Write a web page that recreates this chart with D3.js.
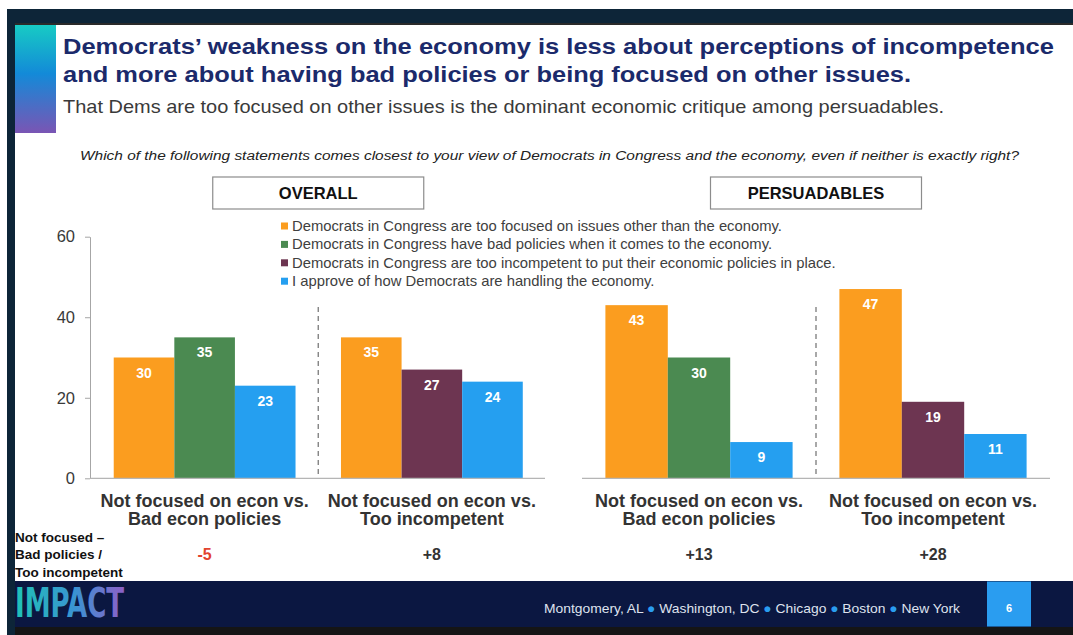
<!DOCTYPE html>
<html lang="en">
<head>
<meta charset="utf-8">
<title>Democrats and the economy</title>
<script src="https://cdn.jsdelivr.net/npm/d3@7"></script>
<style>
  body { margin: 0; background: #fff; }
  text { font-family: "Liberation Sans", Arial, sans-serif; }
</style>
</head>
<body>
<script>
"use strict";

// ---- data ----
const panelNames = ["OVERALL", "PERSUADABLES"];
const comparisons = [
  ["Not focused on econ vs.", "Bad econ policies"],
  ["Not focused on econ vs.", "Too incompetent"]
];
const seriesKeys = ["focused", "policies", "incompetent", "approve"];
const seriesNames = [
  "Democrats in Congress are too focused on issues other than the economy.",
  "Democrats in Congress have bad policies when it comes to the economy.",
  "Democrats in Congress are too incompetent to put their economic policies in place.",
  "I approve of how Democrats are handling the economy."
];
const critiqueKeys = ["policies", "incompetent"];   // second bar of each comparison

const overallFocused = [30, 35];
const overallCritique = [35, 27];
const overallApprove = [23, 24];

const persFocused = [43, 47];
const persCritique = [30, 19];
const persApprove = [9, 11];

const overallNet = ["-5", "+8"];
const persNet = ["+13", "+28"];

const yTicks = [0, 20, 40, 60];
const footerCities = ["Montgomery, AL", "Washington, DC", "Chicago", "Boston", "New York"];

const colors = {
  focused: "#fb9d1f",
  policies: "#4b8a51",
  incompetent: "#6d3551",
  approve: "#259ff0"
};

// ---- build panels ----
const panels = [
  { name: panelNames[0], range: [91, 545.5], axis: true, baseline: [90, 545],
    focused: overallFocused, critique: overallCritique, approve: overallApprove, net: overallNet },
  { name: panelNames[1], range: [582, 1050], axis: false, baseline: [582, 1050],
    focused: persFocused, critique: persCritique, approve: persApprove, net: persNet }
];

const W = 1073, H = 635;
const svg = d3.select("body").append("svg").attr("width", W).attr("height", H);
const defs = svg.append("defs");

// frame pieces
svg.append("rect").attr("x", 7).attr("y", 9).attr("width", W - 7).attr("height", 14).attr("fill", "#0d2538");
svg.append("rect").attr("x", 15).attr("y", 23).attr("width", W - 15).attr("height", 2).attr("fill", "#2a2a2a");
svg.append("rect").attr("x", 7).attr("y", 9).attr("width", 8).attr("height", H - 9).attr("fill", "#0d2538");

let sideGrad = defs.append("linearGradient").attr("id", "sideGrad")
  .attr("x1", 0).attr("y1", 0).attr("x2", 0).attr("y2", 1);
sideGrad.append("stop").attr("offset", "0%").attr("stop-color", "#17cbc4");
sideGrad.append("stop").attr("offset", "45%").attr("stop-color", "#138ad8");
sideGrad.append("stop").attr("offset", "100%").attr("stop-color", "#7a55b4");
svg.append("rect").attr("x", 15).attr("y", 25).attr("width", 41).attr("height", 108).attr("fill", "url(#sideGrad)");

// titles
svg.append("text").attr("x", 63).attr("y", 54)
  .attr("textLength", 991).attr("lengthAdjust", "spacingAndGlyphs")
  .style("font-size", "21.5px").style("font-weight", "bold").attr("fill", "#1b2a6b")
  .text("Democrats\u2019 weakness on the economy is less about perceptions of incompetence");
svg.append("text").attr("x", 63).attr("y", 81.5)
  .attr("textLength", 848).attr("lengthAdjust", "spacingAndGlyphs")
  .style("font-size", "21.5px").style("font-weight", "bold").attr("fill", "#1b2a6b")
  .text("and more about having bad policies or being focused on other issues.");
svg.append("text").attr("x", 63).attr("y", 113)
  .attr("textLength", 881).attr("lengthAdjust", "spacingAndGlyphs")
  .style("font-size", "18.5px").attr("fill", "#3a3a3a")
  .text("That Dems are too focused on other issues is the dominant economic critique among persuadables.");
svg.append("text").attr("x", 80).attr("y", 160)
  .attr("textLength", 939).attr("lengthAdjust", "spacingAndGlyphs")
  .style("font-size", "12.5px").style("font-style", "italic").attr("fill", "#222")
  .text("Which of the following statements comes closest to your view of Democrats in Congress and the economy, even if neither is exactly right?");

// shared y scale
const y = d3.scaleLinear().domain([0, 60]).range([478.3, 236.7]);

panels.forEach(function(p) {
  let x = d3.scaleBand().domain([0, 1]).range(p.range).paddingInner(0.2).paddingOuter(0.1);
  let inner = d3.scaleBand().domain([0, 1, 2]).range([0, x.bandwidth()]);
  let g = svg.append("g");
  let mid = (p.range[0] + p.range[1]) / 2;

  // header box
  g.append("rect").attr("x", mid - 105.5).attr("y", 177).attr("width", 211).attr("height", 32)
    .attr("fill", "#fff").attr("stroke", "#8c8c8c").attr("stroke-width", 1.2);
  g.append("text").attr("x", mid).attr("y", 199).attr("text-anchor", "middle")
    .style("font-size", "16.5px").style("font-weight", "bold").attr("fill", "#111")
    .text(p.name);

  // y axis
  if (p.axis) {
    let ax = g.append("g").attr("transform", "translate(90,0)")
      .call(d3.axisLeft(y).tickValues(yTicks).tickSize(5).tickSizeOuter(0).tickPadding(10));
    ax.select(".domain").attr("stroke", "#a6a6a6");
    ax.selectAll(".tick line").attr("stroke", "#a6a6a6");
    ax.selectAll(".tick text").style("font-size", "16.5px").style("font-family", "'Liberation Sans', Arial, sans-serif")
      .attr("fill", "#3a3a3a");
  }

  // divider between comparisons
  let divX = (x(0) + x.bandwidth() + x(1)) / 2;
  g.append("line").attr("x1", divX).attr("x2", divX).attr("y1", 307).attr("y2", y(0))
    .attr("stroke", "#7a7a7a").attr("stroke-width", 1.3).attr("stroke-dasharray", "5,4");

  // bars
  let rows = [];
  [0, 1].forEach(function(i) {
    let vals = [p.focused[i], p.critique[i], p.approve[i]];
    let keys = ["focused", critiqueKeys[i], "approve"];
    vals.forEach(function(v, j) { rows.push({ grp: i, slot: j, key: keys[j], value: v }); });
  });

  g.selectAll("rect.bar").data(rows).enter().append("rect")
    .attr("class", "bar")
    .attr("x", function(d) { return x(d.grp) + inner(d.slot); })
    .attr("width", inner.bandwidth())
    .attr("y", function(d) { return y(d.value); })
    .attr("height", function(d) { return y(0) - y(d.value); })
    .attr("fill", function(d) { return colors[d.key]; });

  g.selectAll("text.val").data(rows).enter().append("text")
    .attr("class", "val")
    .attr("x", function(d) { return x(d.grp) + inner(d.slot) + inner.bandwidth() / 2; })
    .attr("y", function(d) { return y(d.value) + 20; })
    .attr("text-anchor", "middle")
    .style("font-size", "14px").style("font-weight", "bold").attr("fill", "#fff")
    .text(function(d) { return d.value; });

  // baseline
  g.append("line").attr("x1", p.baseline[0]).attr("x2", p.baseline[1]).attr("y1", y(0)).attr("y2", y(0))
    .attr("stroke", "#b5b5b5").attr("stroke-width", 1.2);

  // category labels
  [0, 1].forEach(function(i) {
    let cx = x(i) + x.bandwidth() / 2;
    let t = g.append("text").attr("text-anchor", "middle")
      .style("font-size", "18px").style("font-weight", "bold").attr("fill", "#333");
    t.append("tspan").attr("x", cx).attr("y", 506.5).text(comparisons[i][0]);
    t.append("tspan").attr("x", cx).attr("y", 525).text(comparisons[i][1]);

    g.append("text").attr("x", cx).attr("y", 560).attr("text-anchor", "middle")
      .style("font-size", "16px").style("font-weight", "bold")
      .attr("fill", p.net[i].charAt(0) === "-" ? "#e2432f" : "#333")
      .text(p.net[i]);
  });
});

// legend
let legend = svg.append("g").attr("transform", "translate(281,226)");
seriesNames.forEach(function(name, i) {
  let row = legend.append("g").attr("transform", "translate(0," + (i * 18.4) + ")");
  row.append("rect").attr("x", 0).attr("y", -3.5).attr("width", 7).attr("height", 7)
    .attr("fill", colors[seriesKeys[i]]);
  row.append("text").attr("x", 11).attr("y", 5)
    .style("font-size", "14.8px").attr("fill", "#404040").text(name);
});

// row label for net differences
let netLabel = svg.append("text").style("font-size", "13.5px").style("font-weight", "bold").attr("fill", "#111");
["Not focused \u2013", "Bad policies /", "Too incompetent"].forEach(function(s, i) {
  netLabel.append("tspan").attr("x", 15).attr("y", 541.5 + i * 17.5).text(s);
});

// footer
svg.append("rect").attr("x", 15).attr("y", 581).attr("width", W - 15).attr("height", 46).attr("fill", "#0b1741");
svg.append("rect").attr("x", 15).attr("y", 627).attr("width", W - 15).attr("height", 8).attr("fill", "#151515");

let logoGrad = defs.append("linearGradient").attr("id", "logoGrad")
  .attr("gradientUnits", "userSpaceOnUse").attr("x1", 15).attr("x2", 124).attr("y1", 0).attr("y2", 0);
logoGrad.append("stop").attr("offset", "0%").attr("stop-color", "#1fc3b6");
logoGrad.append("stop").attr("offset", "55%").attr("stop-color", "#3a93d2");
logoGrad.append("stop").attr("offset", "100%").attr("stop-color", "#8c60c8");
svg.append("text").attr("x", 15).attr("y", 617)
  .attr("textLength", 109).attr("lengthAdjust", "spacingAndGlyphs")
  .style("font-family", "'Liberation Sans Narrow', 'DejaVu Sans Condensed', sans-serif")
  .style("font-size", "40px").style("font-weight", "bold").attr("fill", "url(#logoGrad)")
  .text("IMPACT");

let foot = svg.append("text").attr("x", 544).attr("y", 612.5)
  .attr("textLength", 416).attr("lengthAdjust", "spacingAndGlyphs")
  .style("font-size", "13.5px").attr("fill", "#dfe3ee");
footerCities.forEach(function(c, i) {
  if (i > 0) foot.append("tspan").attr("fill", "#2a9df0").text(" \u25CF ");
  foot.append("tspan").text(c);
});

svg.append("rect").attr("x", 987).attr("y", 581.5).attr("width", 44).attr("height", 45).attr("fill", "#2a9df0");
svg.append("text").attr("x", 1009).attr("y", 612).attr("text-anchor", "middle")
  .style("font-size", "11px").style("font-weight", "bold").attr("fill", "#fff").text("6");
</script>
</body>
</html>
